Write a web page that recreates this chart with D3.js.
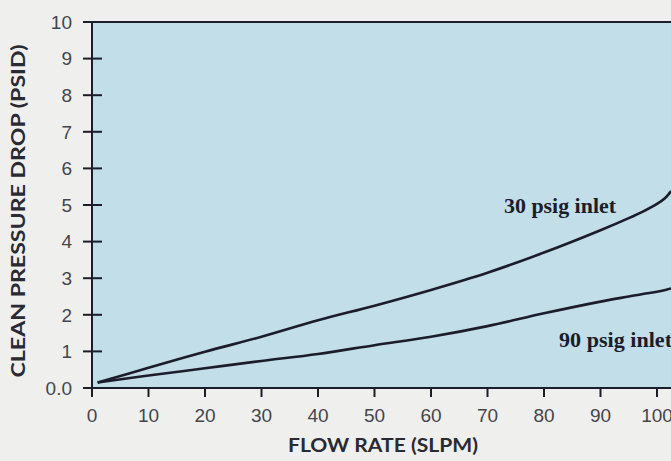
<!DOCTYPE html>
<html><head><meta charset="utf-8">
<script src="https://cdn.jsdelivr.net/npm/d3@7"></script>
<style>
html,body{margin:0;padding:0;background:#efefed;}
svg{display:block;}
</style></head>
<body>
<svg id="c" width="671" height="461"></svg>
<script>
const flow = [1, 10, 20, 30, 40, 50, 60, 70, 80, 90, 95, 97.5, 100, 101.5, 102.5];
const psig30 = [0.15, 0.55, 0.99, 1.40, 1.85, 2.25, 2.68, 3.15, 3.70, 4.31, 4.64, 4.82, 5.03, 5.20, 5.38];
const psig90 = [0.15, 0.34, 0.54, 0.74, 0.93, 1.17, 1.40, 1.69, 2.04, 2.36, 2.50, 2.57, 2.63, 2.68, 2.72];
const xTicks = [0, 10, 20, 30, 40, 50, 60, 70, 80, 90, 100];
const yTicks = [0, 1, 2, 3, 4, 5, 6, 7, 8, 9, 10];
const yTickLabels = ["0.0", "1", "2", "3", "4", "5", "6", "7", "8", "9", "10"];
const seriesLabels = ["30 psig inlet", "90 psig inlet"];

(function () {
const svg = d3.select("#c");
const W = 671, H = 461;
const pLeft = 92, pTop = 22, pBottom = 388;
const x = d3.scaleLinear().domain([0, 100]).range([pLeft, 657]);
const y = d3.scaleLinear().domain([0, 10]).range([pBottom, pTop]);
const ink = "#1c1c2a";

svg.append("rect").attr("width", W).attr("height", H).attr("fill", "#efefed");
svg.append("rect").attr("x", pLeft).attr("y", pTop).attr("width", W - pLeft).attr("height", pBottom - pTop).attr("fill", "#c1dee9");

// y axis
const yAxis = svg.append("g");
yAxis.append("line").attr("x1", pLeft).attr("x2", pLeft).attr("y1", y(10)).attr("y2", pBottom + 9)
  .attr("stroke", ink).attr("stroke-width", 2);
yAxis.selectAll("line.t").data(yTicks).join("line").attr("class", "t")
  .attr("x1", pLeft - 9).attr("x2", d => d === 10 ? W : pLeft + 10)
  .attr("y1", d => y(d)).attr("y2", d => y(d))
  .attr("stroke", ink).attr("stroke-width", 2);
yAxis.selectAll("text").data(yTicks).join("text")
  .attr("x", 72).attr("y", d => y(d)).attr("dy", "0.36em")
  .attr("text-anchor", "end")
  .attr("font-family", "'Liberation Sans', Arial, sans-serif").attr("font-size", 19)
  .attr("fill", "#45454c")
  .text((d, i) => yTickLabels[i]);

// x axis
const xAxis = svg.append("g");
xAxis.append("line").attr("x1", pLeft - 9).attr("x2", W).attr("y1", pBottom).attr("y2", pBottom)
  .attr("stroke", ink).attr("stroke-width", 2);
xAxis.selectAll("line.t").data(xTicks).join("line").attr("class", "t")
  .attr("x1", d => x(d)).attr("x2", d => x(d))
  .attr("y1", pBottom).attr("y2", pBottom + 9)
  .attr("stroke", ink).attr("stroke-width", 2);
xAxis.selectAll("text").data(xTicks).join("text")
  .attr("x", d => x(d)).attr("y", 415).attr("dy", "0.36em")
  .attr("text-anchor", "middle")
  .attr("font-family", "'Liberation Sans', Arial, sans-serif").attr("font-size", 19)
  .attr("fill", "#45454c")
  .text(d => d);

// curves
const line = d3.line().x(d => x(d[0])).y(d => y(d[1])).curve(d3.curveCatmullRom.alpha(0.5));
[psig30, psig90].forEach(vals => {
  svg.append("path").datum(flow.map((f, i) => [f, vals[i]]))
    .attr("d", line).attr("fill", "none").attr("stroke", ink).attr("stroke-width", 2.6);
});

// series labels
const serif = "'Liberation Serif', 'DejaVu Serif', serif";
svg.append("text").attr("x", 504).attr("y", 213).attr("font-family", serif)
  .attr("font-weight", "bold").attr("font-size", 21).attr("fill", "#1c1c2a")
  .attr("textLength", 112).attr("lengthAdjust", "spacingAndGlyphs").text(seriesLabels[0]);
svg.append("text").attr("x", 559).attr("y", 347).attr("font-family", serif)
  .attr("font-weight", "bold").attr("font-size", 21).attr("fill", "#1c1c2a")
  .attr("textLength", 113).attr("lengthAdjust", "spacingAndGlyphs").text(seriesLabels[1]);

// axis titles
const titleFont = "Lato, 'Open Sans', sans-serif";
svg.append("text").attr("x", 383).attr("y", 452).attr("text-anchor", "middle")
  .attr("font-family", titleFont).attr("font-weight", "bold").attr("font-size", 18)
  .attr("fill", "#2a2a33").attr("textLength", 190).attr("lengthAdjust", "spacingAndGlyphs")
  .text("FLOW RATE (SLPM)");
svg.append("text").attr("transform", "translate(25,211) rotate(-90)").attr("text-anchor", "middle")
  .attr("font-family", titleFont).attr("font-weight", "bold").attr("font-size", 19)
  .attr("fill", "#2a2a33").attr("textLength", 333).attr("lengthAdjust", "spacingAndGlyphs")
  .text("CLEAN PRESSURE DROP (PSID)");
})();
</script>
</body></html>
